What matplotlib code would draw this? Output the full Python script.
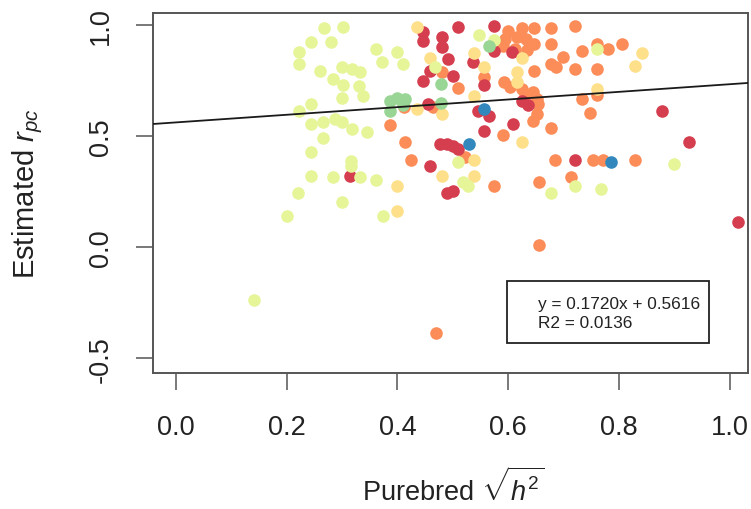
import matplotlib
matplotlib.use("Agg")
import matplotlib.pyplot as plt
from matplotlib.patches import Rectangle

plt.rcParams['font.family'] = ['Liberation Sans', 'DejaVu Sans']
plt.rcParams['mathtext.fontset'] = 'custom'
plt.rcParams['mathtext.rm'] = 'Liberation Sans'
plt.rcParams['mathtext.it'] = 'Liberation Sans:italic'

# ---- data (Purebred sqrt(h2), Estimated r_pc), grouped by colour class ----
lightgreen_x = [0.268, 0.302, 0.245, 0.281, 0.223, 0.223, 0.260, 0.300, 0.318, 0.333,
                0.284, 0.301, 0.331, 0.338, 0.300, 0.361, 0.373, 0.399, 0.411, 0.245,
                0.223, 0.245, 0.266, 0.287, 0.300, 0.318, 0.345, 0.265, 0.245, 0.316,
                0.316, 0.245, 0.283, 0.333, 0.361, 0.221, 0.300, 0.200, 0.374, 0.141,
                0.468, 0.548, 0.574, 0.761, 0.510, 0.519, 0.528, 0.678, 0.720, 0.767,
                0.899]
lightgreen_y = [0.986, 0.990, 0.925, 0.925, 0.878, 0.825, 0.795, 0.810, 0.802, 0.788,
                0.757, 0.730, 0.727, 0.682, 0.671, 0.892, 0.833, 0.878, 0.825, 0.645,
                0.615, 0.555, 0.563, 0.577, 0.563, 0.532, 0.518, 0.491, 0.428, 0.390,
                0.367, 0.322, 0.315, 0.315, 0.303, 0.243, 0.205, 0.142, 0.142, -0.236,
                0.810, 0.955, 0.934, 0.892, 0.383, 0.295, 0.275, 0.244, 0.275, 0.262,
                0.375]

green_x = [0.387, 0.399, 0.414, 0.387, 0.410, 0.478, 0.478, 0.566]
green_y = [0.660, 0.672, 0.667, 0.615, 0.640, 0.735, 0.649, 0.905]

blue_x = [0.557, 0.530, 0.785]
blue_y = [0.622, 0.465, 0.383]

yellow_x = [0.435, 0.458, 0.538, 0.557, 0.538, 0.624, 0.615, 0.615, 0.761, 0.842,
            0.829, 0.436, 0.480, 0.624, 0.538, 0.538, 0.480, 0.400, 0.400]
yellow_y = [0.990, 0.851, 0.874, 0.810, 0.682, 0.851, 0.788, 0.745, 0.710, 0.874,
            0.814, 0.622, 0.600, 0.475, 0.394, 0.322, 0.322, 0.275, 0.165]

red_x = [0.447, 0.447, 0.480, 0.480, 0.510, 0.574, 0.492, 0.459, 0.447, 0.500,
         0.537, 0.557, 0.575, 0.606, 0.624, 0.636, 0.456, 0.546, 0.566, 0.608,
         0.557, 0.477, 0.489, 0.501, 0.510, 0.459, 0.489, 0.501, 0.314, 0.720,
         0.877, 0.926, 1.015]
red_y = [0.968, 0.930, 0.945, 0.900, 0.990, 0.997, 0.846, 0.795, 0.748, 0.772,
         0.833, 0.730, 0.885, 0.878, 0.660, 0.640, 0.645, 0.611, 0.592, 0.555,
         0.525, 0.465, 0.465, 0.457, 0.442, 0.365, 0.244, 0.255, 0.319, 0.393,
         0.615, 0.475, 0.115]

orange_x = [0.387, 0.413, 0.425, 0.469, 0.480, 0.510, 0.557, 0.465, 0.522, 0.574,
            0.591, 0.600, 0.624, 0.647, 0.678, 0.720, 0.594, 0.615, 0.632, 0.591,
            0.647, 0.678, 0.612, 0.633, 0.699, 0.678, 0.687, 0.720, 0.761, 0.647,
            0.733, 0.761, 0.780, 0.806, 0.592, 0.603, 0.624, 0.645, 0.651, 0.630,
            0.654, 0.651, 0.645, 0.677, 0.733, 0.747, 0.761, 0.685, 0.753, 0.771,
            0.829, 0.656, 0.713, 0.656, 0.412]
orange_y = [0.550, 0.473, 0.393, -0.386, 0.788, 0.716, 0.765, 0.630, 0.406, 0.275,
            0.504, 0.975, 0.986, 0.986, 0.986, 0.995, 0.938, 0.945, 0.938, 0.907,
            0.915, 0.913, 0.892, 0.889, 0.854, 0.825, 0.810, 0.802, 0.802, 0.795,
            0.885, 0.915, 0.892, 0.915, 0.745, 0.720, 0.712, 0.698, 0.667, 0.682,
            0.645, 0.600, 0.570, 0.536, 0.667, 0.603, 0.685, 0.393, 0.393, 0.393,
            0.392, 0.295, 0.315, 0.012, 0.630]

# regression fit shown on the chart
slope = 0.1720
intercept = 0.5616
fit_text = ["y = 0.1720x + 0.5616", "R2 = 0.0136"]

x_ticks = [0.0, 0.2, 0.4, 0.6, 0.8, 1.0]
y_ticks = [-0.5, 0.0, 0.5, 1.0]

# Spectral palette (6 classes)
C_RED, C_ORANGE, C_YELLOW = '#D53E4F', '#FC8D59', '#FEE08B'
C_LGREEN, C_GREEN, C_BLUE = '#E6F598', '#99D594', '#3288BD'

W, H = 751, 510
fig = plt.figure(figsize=(W / 100, H / 100), dpi=100)
L, R, T, B = 153.3, 747.7, 14, 374
ax = fig.add_axes([L / W, 1 - B / H, (R - L) / W, (B - T) / H])

s = 82
for xs, ys, c in [(orange_x, orange_y, C_ORANGE), (red_x, red_y, C_RED),
                  (yellow_x, yellow_y, C_YELLOW), (lightgreen_x, lightgreen_y, C_LGREEN),
                  (green_x, green_y, C_GREEN), (blue_x, blue_y, C_BLUE)]:
    ax.scatter(xs, ys, s=s, c=c, linewidths=0, zorder=2)

xlim = (-0.0404, 1.032)
ylim = (-0.566, 1.054)
ax.set_xlim(*xlim)
ax.set_ylim(*ylim)
ax.plot(list(xlim), [intercept + slope * xlim[0], intercept + slope * xlim[1]],
        color='#1a1a1a', lw=1.3, zorder=3)

ax.set_xticks(x_ticks)
ax.set_xticklabels([f"{v:.1f}" for v in x_ticks])
ax.set_yticks(y_ticks)
ax.set_yticklabels([f"{v:.1f}" for v in y_ticks], rotation=90, va='center')
ax.tick_params(axis='both', direction='out', length=12.5, width=1.1, color='#555555',
               labelsize=19.5, labelcolor='#222222')
ax.tick_params(axis='x', pad=17)
ax.tick_params(axis='y', pad=16)
for sp in ax.spines.values():
    sp.set_color('#555555')
    sp.set_linewidth(1.4)

fig.text(28 / W, 1 - 194 / H, r"Estimated $r_{pc}$", rotation=90, ha='center', va='center',
         fontsize=21, color='#222222')
fig.text(453 / W, 1 - 501 / H, r"Purebred $\sqrt{h^2}$", ha='center', va='baseline',
         fontsize=19.5, color='#222222')

# fit annotation box (axes fraction)
bx0, bx1 = (507 - L) / (R - L), (709 - L) / (R - L)
by0, by1 = (B - 344) / (B - T), (B - 282) / (B - T)
ax.add_patch(Rectangle((bx0, by0), bx1 - bx0, by1 - by0, transform=ax.transAxes,
                       facecolor='white', edgecolor='#222222', lw=1.3, zorder=4))
tx = (538 - L) / (R - L)
ax.text(tx, (B - 305) / (B - T), fit_text[0], transform=ax.transAxes, ha='left',
        va='center', fontsize=12.4, color='#222222', zorder=5)
ax.text(tx, (B - 324) / (B - T), fit_text[1], transform=ax.transAxes, ha='left',
        va='center', fontsize=12.4, color='#222222', zorder=5)

fig.savefig("out.png", dpi=100)
